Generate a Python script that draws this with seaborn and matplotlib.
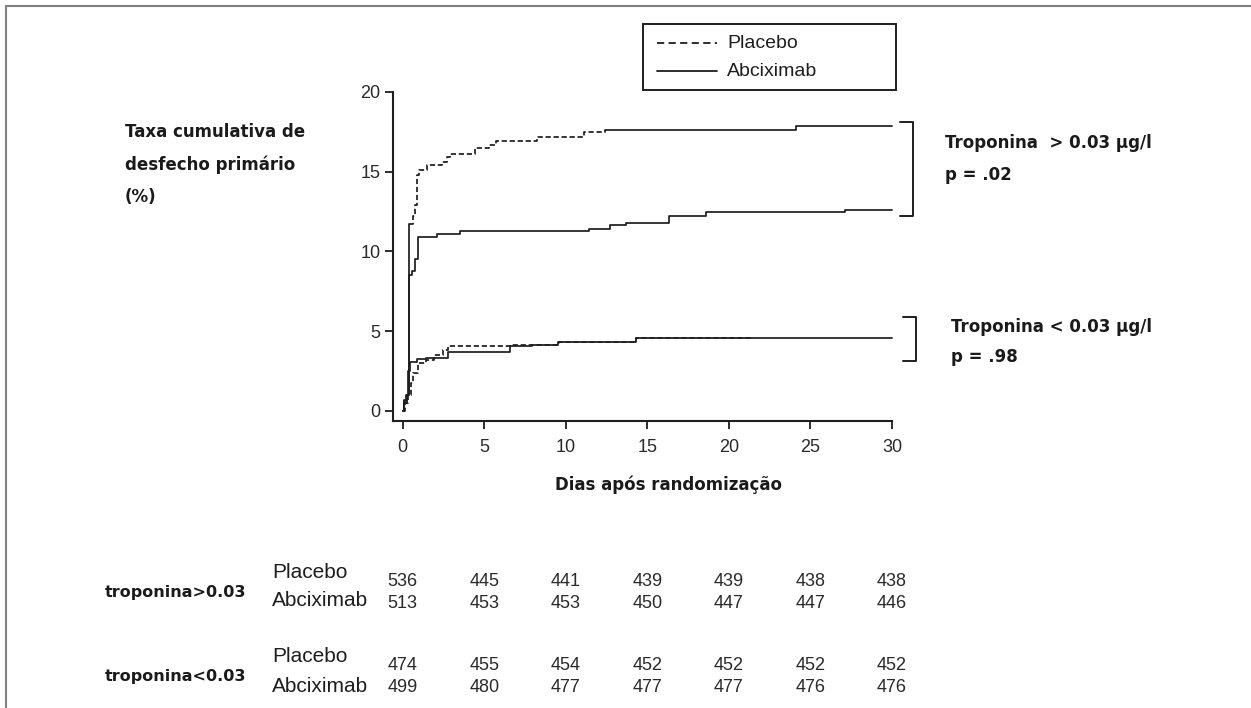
import matplotlib
matplotlib.use("Agg")
import matplotlib.pyplot as plt
import matplotlib.transforms as mtransforms
import pandas as pd
import seaborn as sns
from matplotlib.lines import Line2D
from matplotlib.patches import Rectangle

# curvas de Kaplan-Meier
dias_placebo_alta = [0, 0.1, 0.2, 0.37, 0.6, 0.77, 0.87, 1.0, 1.5, 2.4, 2.7, 2.9,
                     4.4, 5.3, 5.7, 8.2, 11.1, 12.4, 24.1, 30]
taxa_placebo_alta = [0, 0.6, 1.0, 11.7, 12.2, 12.9, 14.8, 15.1, 15.4, 15.6, 15.9, 16.1,
                     16.5, 16.7, 16.9, 17.2, 17.5, 17.6, 17.85, 17.85]
dias_abcix_alta = [0, 0.1, 0.25, 0.37, 0.55, 0.75, 0.95, 2.1, 3.5, 11.4, 12.7, 13.7,
                   16.3, 18.6, 27.1, 30]
taxa_abcix_alta = [0, 0.5, 1.0, 8.5, 8.8, 9.5, 10.9, 11.1, 11.3, 11.4, 11.65, 11.8,
                   12.2, 12.45, 12.6, 12.6]
dias_placebo_baixa = [0, 0.15, 0.3, 0.51, 0.61, 0.92, 1.42, 1.93, 2.44, 2.75, 6.6,
                      9.55, 14.3, 21.5]
taxa_placebo_baixa = [0, 0.5, 1.0, 1.75, 2.35, 3.0, 3.2, 3.5, 3.8, 4.05, 4.12,
                      4.35, 4.55, 4.55]
dias_abcix_baixa = [0, 0.1, 0.25, 0.33, 0.45, 0.9, 1.4, 2.8, 6.6, 7.9, 9.5, 14.3, 30]
taxa_abcix_baixa = [0, 0.7, 1.0, 2.5, 3.05, 3.25, 3.35, 3.7, 4.05, 4.15, 4.35, 4.55, 4.55]

# pacientes em risco
dias_risco = [0, 5, 10, 15, 20, 25, 30]
risco_alta_placebo = [536, 445, 441, 439, 439, 438, 438]
risco_alta_abcix = [513, 453, 453, 450, 447, 447, 446]
risco_baixa_placebo = [474, 455, 454, 452, 452, 452, 452]
risco_baixa_abcix = [499, 480, 477, 477, 477, 476, 476]

W, H = 1251, 708
fig = plt.figure(figsize=(W / 100, H / 100), dpi=100)
sns.set_style("white")
plt.rcParams["font.family"] = ["Liberation Sans", "DejaVu Sans"]

def px(x, y):
    return x / W, 1 - y / H

ax = fig.add_axes([393 / W, 1 - 421 / H, (892 - 393) / W, (421 - 92) / H])
ink = "#1e1e1e"
traco = (3.0, 1.6)

def curva(dias, taxa, dashes=None):
    df = pd.DataFrame({"dia": dias, "taxa": taxa})
    sns.lineplot(data=df, x="dia", y="taxa", ax=ax, color=ink, lw=1.25,
                 drawstyle="steps-post", estimator=None, sort=False, clip_on=False)
    if dashes:
        ax.lines[-1].set_dashes(dashes)

# placebo alto: o traço aparece contínuo na subida inicial e depois do dia ~12
i1 = dias_placebo_alta.index(0.37)
i2 = dias_placebo_alta.index(12.4)
curva(dias_placebo_alta[:i1 + 1], taxa_placebo_alta[:i1 + 1])
curva(dias_placebo_alta[i1:i2 + 1], taxa_placebo_alta[i1:i2 + 1], dashes=traco)
curva(dias_placebo_alta[i2:], taxa_placebo_alta[i2:])
curva(dias_abcix_alta, taxa_abcix_alta)
curva(dias_placebo_baixa, taxa_placebo_baixa, dashes=traco)
curva(dias_abcix_baixa, taxa_abcix_baixa)

ax.set_xlim(-0.6, 30)
ax.set_ylim(-0.63, 20)
ax.set_xticks(dias_risco)
ax.set_yticks([0, 5, 10, 15, 20])
ax.set_xlabel("")
ax.set_ylabel("")
for s in ["top", "right"]:
    ax.spines[s].set_visible(False)
for s in ["left", "bottom"]:
    ax.spines[s].set_color(ink)
    ax.spines[s].set_linewidth(1.5)
ax.tick_params(axis="both", direction="out", length=6, width=1.3, color=ink,
               labelsize=13, labelcolor="#2a2a2a", left=True, bottom=True)
ax.tick_params(axis="x", pad=7)
ax.tick_params(axis="y", pad=3)

bold = dict(family="DejaVu Sans", fontweight="bold", color="#1a1a1a", fontsize=12)

# rótulos dos eixos
fig.text(*px(125, 123), "Taxa cumulativa de\ndesfecho primário\n(%)", ha="left", va="top",
         linespacing=2.0, **bold)
fig.text(*px(668, 485), "Dias após randomização", ha="center", va="center", **bold)

# legenda (caixa desenhada à mão, como no original)
fig.add_artist(Rectangle(px(643, 90), 253 / W, 66 / H, transform=fig.transFigure,
                         fill=False, edgecolor=ink, lw=1.4))
fig.add_artist(Line2D([657 / W, 717 / W], [1 - 43 / H] * 2, color=ink, lw=1.3,
                      dashes=(4.0, 2.4)))
fig.add_artist(Line2D([657 / W, 717 / W], [1 - 71 / H] * 2, color=ink, lw=1.3))
fig.text(*px(727, 43), "Placebo", ha="left", va="center", fontsize=14, color=ink)
fig.text(*px(727, 71), "Abciximab", ha="left", va="center", fontsize=14, color=ink)

# colchetes e anotações
def colchete(x0, x1, y0, y1):
    ax.plot([x0, x1, x1, x0], [y0, y0, y1, y1], color=ink, lw=1.4, clip_on=False)

colchete(30.5, 31.3, 18.1, 12.2)
colchete(30.7, 31.45, 5.9, 3.15)
fig.text(*px(945, 143), "Troponina  > 0.03 µg/l", ha="left", va="center", **bold)
fig.text(*px(945, 175), "p = .02", ha="left", va="center", **bold)
fig.text(*px(951, 327), "Troponina < 0.03 µg/l", ha="left", va="center", **bold)
fig.text(*px(951, 357), "p = .98", ha="left", va="center", **bold)

# tabela de pacientes em risco (colunas alinhadas aos ticks do eixo x)
blend = mtransforms.blended_transform_factory(ax.transData, fig.transFigure)
linhas = [(risco_alta_placebo, 581), (risco_alta_abcix, 603),
          (risco_baixa_placebo, 666), (risco_baixa_abcix, 688)]
for valores, y in linhas:
    for d, v in zip(dias_risco, valores):
        ax.text(d, 1 - y / H, str(v), transform=blend, ha="center", va="center",
                fontsize=13, color="#2a2a2a", clip_on=False)
for nome, y in [("Placebo", 572), ("Abciximab", 601), ("Placebo", 657), ("Abciximab", 687)]:
    fig.text(*px(272, y), nome, ha="left", va="center", fontsize=15, color="#1e1e1e")
fig.text(*px(105, 593), "troponina>0.03", ha="left", va="center",
         **{**bold, "fontsize": 11.5})
fig.text(*px(105, 676), "troponina<0.03", ha="left", va="center",
         **{**bold, "fontsize": 11.5})

# moldura cinza (só topo e esquerda)
fig.add_artist(Line2D([6 / W, 6 / W], [0, 1 - 6 / H], color="#808080", lw=1.5))
fig.add_artist(Line2D([6 / W, 1], [1 - 6 / H, 1 - 6 / H], color="#808080", lw=1.5))

fig.savefig("out.png", dpi=100, facecolor="white")
